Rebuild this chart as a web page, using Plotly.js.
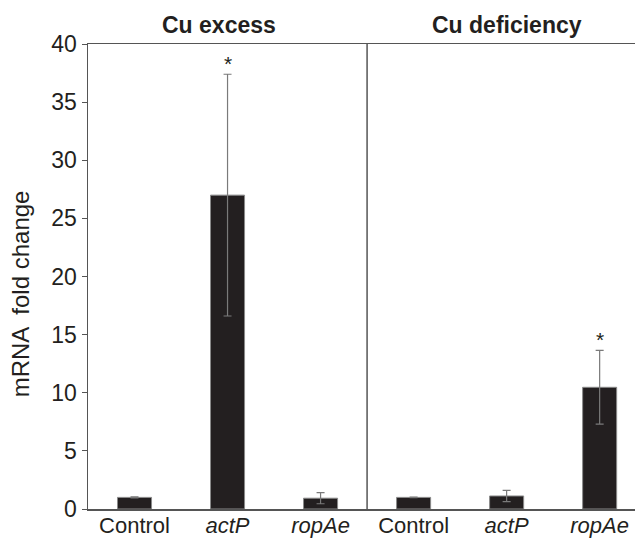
<!DOCTYPE html>
<html>
<head>
<meta charset="utf-8">
<script src="https://cdn.plot.ly/plotly-3.0.1.min.js"></script>
<style>html,body{margin:0;padding:0;background:#fff;}#chart{width:635px;height:539px;}</style>
</head>
<body>
<div id="chart"></div>
<script>
var categories = ["Control", "<i>actP</i>", "<i>ropAe</i>", "Control", "<i>actP</i>", "<i>ropAe</i>"];
var groups = ["Cu excess", "Cu deficiency"];
var yTitle = "mRNA  fold change";
var foldChange = [1.0, 27.0, 0.93, 1.0, 1.12, 10.47];
var errors = [0.04, 10.4, 0.48, 0.03, 0.48, 3.17];
var significant = [false, true, false, false, false, true];
var yTicks = [0, 5, 10, 15, 20, 25, 30, 35, 40];

var xPos = categories.map(function(_, i){ return i; });
var font = "Liberation Sans, Arial, sans-serif";

var trace = {
  type: "bar",
  x: xPos,
  y: foldChange,
  width: 0.366,
  marker: {color: "#231f20", line: {color: "#8a8a8a", width: 1}},
  error_y: {type: "data", array: errors, visible: true, color: "#7a7a7a", thickness: 1.2, width: 4},
  hoverinfo: "none"
};

var annotations = [];
xPos.forEach(function(x, i){
  if (significant[i]) {
    annotations.push({x: x, y: foldChange[i] + errors[i], xref: "x", yref: "y", text: "*",
      showarrow: false, yanchor: "bottom", yshift: -3, font: {family: font, size: 21, color: "#231f20"}});
  }
});
annotations.push({x: 1, y: 1, xref: "x", yref: "paper", yanchor: "bottom", xshift: -9, yshift: 4, text: "<b>" + groups[0] + "</b>", showarrow: false, font: {family: font, size: 23, color: "#231f20"}});
annotations.push({x: 4, y: 1, xref: "x", yref: "paper", yanchor: "bottom", yshift: 4, text: "<b>" + groups[1] + "</b>", showarrow: false, font: {family: font, size: 23, color: "#231f20"}});
annotations.push({x: -0.124, y: 0.462, xref: "paper", yref: "paper", xanchor: "center", yanchor: "middle", textangle: -90, text: yTitle, showarrow: false, font: {family: font, size: 24, color: "#231f20"}});

var layout = {
  width: 635, height: 539,
  margin: {l: 88, r: 0, t: 44, b: 30, pad: 0},
  paper_bgcolor: "#fff", plot_bgcolor: "#fff",
  showlegend: false,
  bargap: 0,
  xaxis: {
    range: [-0.5, 5.38],
    tickmode: "array", tickvals: xPos, ticktext: categories,
    showline: true, mirror: true, linecolor: "#555", linewidth: 1.5,
    ticks: "", showgrid: false, zeroline: false, ticklabelstandoff: -4,
    tickfont: {family: font, size: 22, color: "#231f20"}, fixedrange: true
  },
  yaxis: {
    range: [0, 40],
    tickmode: "array", tickvals: yTicks,
    showline: true, linecolor: "#555", linewidth: 1.5,
    ticks: "outside", ticklen: 5, tickcolor: "#555", tickwidth: 1,
    showgrid: false, zeroline: false,
    tickfont: {family: font, size: 23, color: "#231f20"},
    fixedrange: true
  },
  shapes: [{type: "line", xref: "x", yref: "y", x0: 2.5, x1: 2.5, y0: 0, y1: 40, line: {color: "#555", width: 1.5}}],
  annotations: annotations
};

Plotly.newPlot("chart", [trace], layout, {displayModeBar: false, staticPlot: true});
</script>
</body>
</html>
